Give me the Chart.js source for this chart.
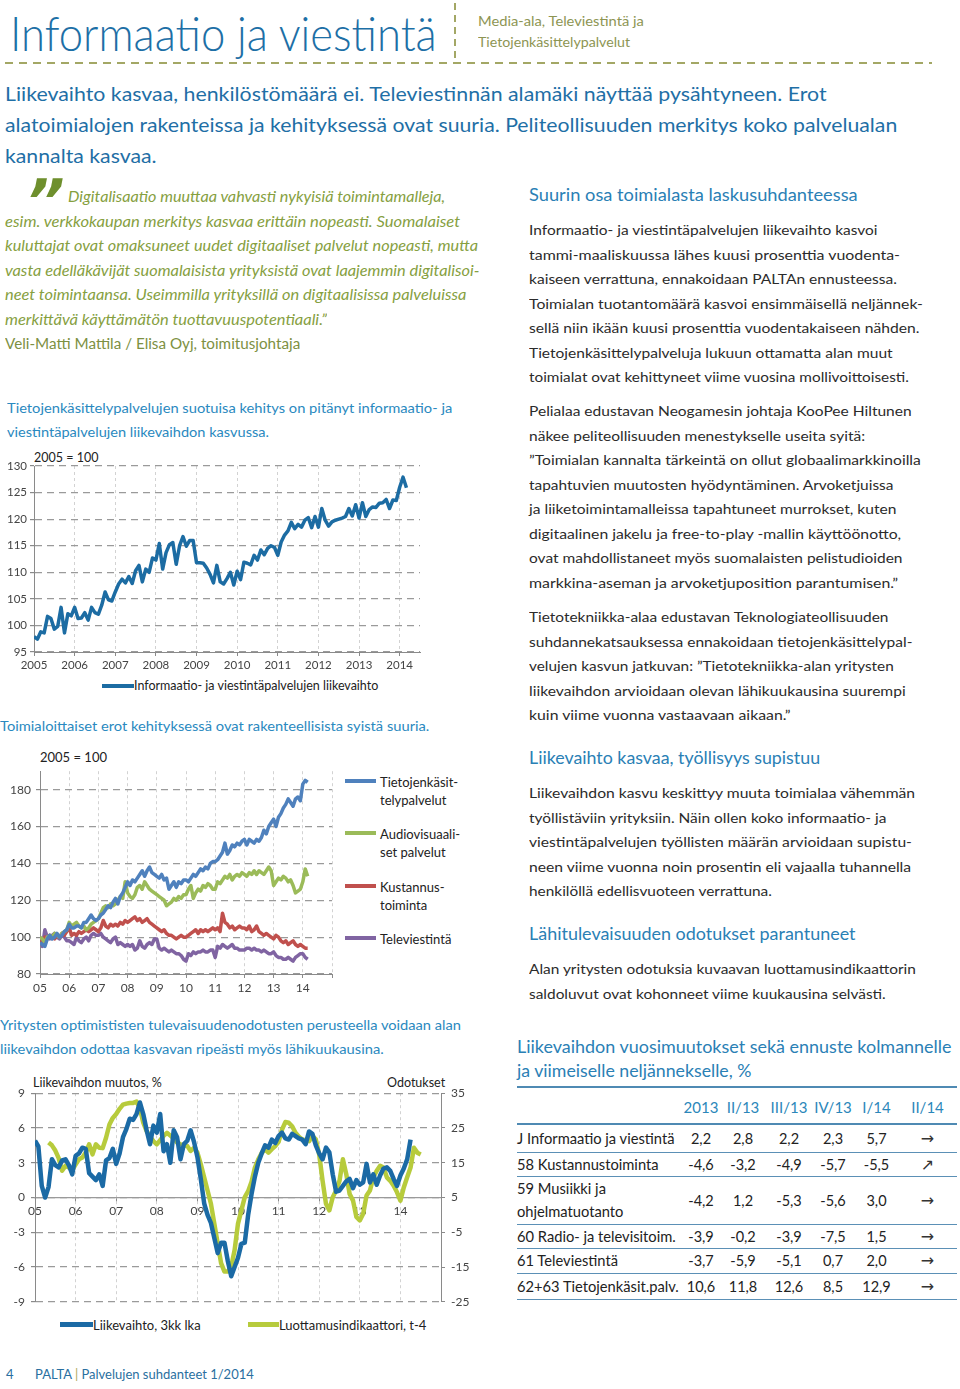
<!DOCTYPE html>
<html lang="fi">
<head>
<meta charset="utf-8">
<title>Informaatio ja viestintä</title>
<script src="https://cdn.jsdelivr.net/npm/chart.js@4.4.1/dist/chart.umd.min.js"></script>
<style>
  body { margin: 0; background: #fff; }
  #sivu { position: relative; width: 960px; height: 1389px; overflow: hidden; font-family: Lato, "Noto Sans", sans-serif; color: #2b2b2b; }
  .abs { position: absolute; white-space: nowrap; }
  .abs span[data-w] { display: inline-block; transform-origin: 0 50%; }
  .oik { font-size: 14px; line-height: 24.5px; color: #2b2b2b; left: 529px; }
  .ots { font-size: 17.5px; line-height: 24px; color: #2a80b5; left: 529px; }
  .kuva { font-size: 13.5px; line-height: 24px; color: #2a89c0; }
  .viiva { position: absolute; }
  canvas { position: absolute; }
  #taulu { position: absolute; left: 517px; top: 1087px; width: 440px; border-collapse: collapse; table-layout: fixed; font-size: 14.5px; color: #222; }
  #taulu td, #taulu th { padding: 0; white-space: nowrap; }
  #taulu th { font-weight: normal; font-size: 15px; color: #2b87ba; height: 29px; vertical-align: bottom; padding-bottom: 7px; }
  #taulu tr { border-bottom: 1.5px solid #5b90b6; }
  #taulu tr:first-child { border-bottom: 2px solid #4f8ab3; }
  #taulu td { text-align: center; }
  #taulu td:first-child { text-align: left; line-height: 23px; font-size: 14.7px; }
  #taulu td.nuoli { font-family: "DejaVu Sans", sans-serif; font-size: 16px; color: #333; }
</style>
</head>
<body>
<div id="sivu">

  <div class="abs" style="left:10px;top:9px;font-size:48px;line-height:48px;font-weight:300;color:#1d6fa6"><span data-w="427">Informaatio ja viestintä</span></div>
  <div class="viiva" style="left:454px;top:3px;width:2px;height:59px;background:repeating-linear-gradient(to bottom,#a3a765 0 7px,transparent 7px 12px)"></div>
  <div class="abs" style="left:478px;top:9.5px;font-size:14px;line-height:21px;color:#8d9553">
    <div><span data-w="166">Media-ala, Televiestintä ja</span></div>
    <div><span data-w="152">Tietojenkäsittelypalvelut</span></div>
  </div>
  <div class="viiva" style="left:5px;top:62px;width:927px;height:2px;background:repeating-linear-gradient(to right,#a3a765 0 8px,transparent 8px 14px)"></div>

  <div class="abs" style="left:5px;top:78px;font-size:20px;line-height:31px;color:#1f6fa6">
    <div><span data-w="822">Liikevaihto kasvaa, henkilöstömäärä ei. Televiestinnän alamäki näyttää pysähtyneen. Erot</span></div>
    <div><span data-w="892">alatoimialojen rakenteissa ja kehityksessä ovat suuria. Peliteollisuuden merkitys koko palvelualan</span></div>
    <div><span data-w="152">kannalta kasvaa.</span></div>
  </div>

  <div class="abs" style="left:26px;top:172px;font-family:'DejaVu Sans',sans-serif;font-weight:bold;font-style:italic;font-size:60px;line-height:58px;color:#6e8f2d">”</div>
  <div class="abs" style="left:5px;top:185px;font-size:14.5px;line-height:24.5px;font-style:italic;color:#86a03f">
    <div style="padding-left:63px"><span data-w="377">Digitalisaatio muuttaa vahvasti nykyisiä toimintamalleja,</span></div>
    <div><span data-w="455">esim. verkkokaupan merkitys kasvaa erittäin nopeasti. Suomalaiset</span></div>
    <div><span data-w="473">kuluttajat ovat omaksuneet uudet digitaaliset palvelut nopeasti, mutta</span></div>
    <div><span data-w="475">vasta edelläkävijät suomalaisista yrityksistä ovat laajemmin digitalisoi-</span></div>
    <div><span data-w="461">neet toimintaansa. Useimmilla yrityksillä on digitaalisissa palveluissa</span></div>
    <div><span data-w="322">merkittävä käyttämätön tuottavuuspotentiaali.”</span></div>
    <div style="font-style:normal;color:#7d9042"><span data-w="295">Veli-Matti Mattila / Elisa Oyj, toimitusjohtaja</span></div>
  </div>

  <div class="abs kuva" style="left:7px;top:396px">
    <div><span data-w="445">Tietojenkäsittelypalvelujen suotuisa kehitys on pitänyt informaatio- ja</span></div>
    <div><span data-w="262">viestintäpalvelujen liikevaihdon kasvussa.</span></div>
  </div>
  <div class="abs" style="left:34px;top:450px;font-size:12.5px;line-height:16px;color:#222">2005 = 100</div>
  <canvas id="kaavio1" width="425" height="220" style="left:0;top:455px"></canvas>
  <div class="viiva" style="left:102px;top:684px;width:32px;height:4px;background:#1c6ca3"></div>
  <div class="abs" style="left:134px;top:678px;font-size:12.5px;line-height:16px;color:#222">Informaatio- ja viestintäpalvelujen liikevaihto</div>

  <div class="abs kuva" style="left:0;top:714px">
    <div><span data-w="429">Toimialoittaiset erot kehityksessä ovat rakenteellisista syistä suuria.</span></div>
  </div>
  <div class="abs" style="left:40px;top:749px;font-size:13px;line-height:16px;color:#222">2005 = 100</div>
  <canvas id="kaavio2" width="340" height="241" style="left:0;top:759px"></canvas>
  <div class="viiva" style="left:345px;top:779px;width:31px;height:4px;background:#4f81bd"></div>
  <div class="viiva" style="left:345px;top:831px;width:31px;height:4px;background:#9bbb59"></div>
  <div class="viiva" style="left:345px;top:884px;width:31px;height:4px;background:#c0504d"></div>
  <div class="viiva" style="left:345px;top:936px;width:31px;height:4px;background:#8064a2"></div>
  <div class="abs" style="left:380px;top:773px;font-size:13px;line-height:18px;color:#222">Tietojenkäsit-<br>telypalvelut</div>
  <div class="abs" style="left:380px;top:825px;font-size:13px;line-height:18px;color:#222">Audiovisuaali-<br>set palvelut</div>
  <div class="abs" style="left:380px;top:878px;font-size:13px;line-height:18px;color:#222">Kustannus-<br>toiminta</div>
  <div class="abs" style="left:380px;top:930px;font-size:13px;line-height:18px;color:#222">Televiestintä</div>

  <div class="abs kuva" style="left:0;top:1013px">
    <div><span data-w="461">Yritysten optimististen tulevaisuudenodotusten perusteella voidaan alan</span></div>
    <div><span data-w="384">liikevaihdon odottaa kasvavan ripeästi myös lähikuukausina.</span></div>
  </div>
  <div class="abs" style="left:33px;top:1075px;font-size:12.5px;line-height:16px;color:#222">Liikevaihdon muutos, %</div>
  <div class="abs" style="left:387px;top:1075px;font-size:12.5px;line-height:16px;color:#222">Odotukset</div>
  <canvas id="kaavio3" width="475" height="235" style="left:0;top:1080px"></canvas>
  <div class="viiva" style="left:60px;top:1322px;width:33px;height:5px;background:#1b6aa5"></div>
  <div class="abs" style="left:93px;top:1317px;font-size:13px;line-height:16px;color:#222">Liikevaihto, 3kk lka</div>
  <div class="viiva" style="left:248px;top:1322px;width:31px;height:5px;background:#b7cb3c"></div>
  <div class="abs" style="left:279px;top:1317px;font-size:13px;line-height:16px;color:#222">Luottamusindikaattori, t-4</div>

  <div class="abs ots" style="top:183px"><span data-w="329">Suurin osa toimialasta laskusuhdanteessa</span></div>
  <div class="abs oik" style="top:218px">
    <div><span data-w="349">Informaatio- ja viestintäpalvelujen liikevaihto kasvoi</span></div>
    <div><span data-w="371">tammi-maaliskuussa lähes kuusi prosenttia vuodenta-</span></div>
    <div><span data-w="368">kaiseen verrattuna, ennakoidaan PALTAn ennusteessa.</span></div>
    <div><span data-w="394">Toimialan tuotantomäärä kasvoi ensimmäisellä neljännek-</span></div>
    <div><span data-w="391">sellä niin ikään kuusi prosenttia vuodentakaiseen nähden.</span></div>
    <div><span data-w="364">Tietojenkäsittelypalveluja lukuun ottamatta alan muut</span></div>
    <div><span data-w="380">toimialat ovat kehittyneet viime vuosina mollivoittoisesti.</span></div>
  </div>
  <div class="abs oik" style="top:399px">
    <div><span data-w="383">Pelialaa edustavan Neogamesin johtaja KooPee Hiltunen</span></div>
    <div><span data-w="336">näkee peliteollisuuden menestykselle useita syitä:</span></div>
    <div><span data-w="392">”Toimialan kannalta tärkeintä on ollut globaalimarkkinoilla</span></div>
    <div><span data-w="364">tapahtuvien muutosten hyödyntäminen. Arvoketjuissa</span></div>
    <div><span data-w="367">ja liiketoimintamalleissa tapahtuneet murrokset, kuten</span></div>
    <div><span data-w="372">digitaalinen jakelu ja free-to-play -mallin käyttöönotto,</span></div>
    <div><span data-w="374">ovat mahdollistaneet myös suomalaisten pelistudioiden</span></div>
    <div><span data-w="369">markkina-aseman ja arvoketjuposition parantumisen.”</span></div>
  </div>
  <div class="abs oik" style="top:605px">
    <div><span data-w="359">Tietotekniikka-alaa edustavan Teknologiateollisuuden</span></div>
    <div><span data-w="383">suhdannekatsauksessa ennakoidaan tietojenkäsittelypal-</span></div>
    <div><span data-w="365">velujen kasvun jatkuvan: ”Tietotekniikka-alan yritysten</span></div>
    <div><span data-w="377">liikevaihdon arvioidaan olevan lähikuukausina suurempi</span></div>
    <div><span data-w="262">kuin viime vuonna vastaavaan aikaan.”</span></div>
  </div>
  <div class="abs ots" style="top:746px"><span data-w="291">Liikevaihto kasvaa, työllisyys supistuu</span></div>
  <div class="abs oik" style="top:781px">
    <div><span data-w="386">Liikevaihdon kasvu keskittyy muuta toimialaa vähemmän</span></div>
    <div><span data-w="358">työllistäviin yrityksiin. Näin ollen koko informaatio- ja</span></div>
    <div><span data-w="383">viestintäpalvelujen työllisten määrän arvioidaan supistu-</span></div>
    <div><span data-w="382">neen viime vuonna noin prosentin eli vajaalla tuhannella</span></div>
    <div><span data-w="243">henkilöllä edellisvuoteen verrattuna.</span></div>
  </div>
  <div class="abs ots" style="top:922px"><span data-w="326">Lähitulevaisuuden odotukset parantuneet</span></div>
  <div class="abs oik" style="top:957px">
    <div><span data-w="387">Alan yritysten odotuksia kuvaavan luottamusindikaattorin</span></div>
    <div><span data-w="357">saldoluvut ovat kohonneet viime kuukausina selvästi.</span></div>
  </div>

  <div class="abs" style="left:517px;top:1035px;font-size:17.5px;line-height:24px;color:#2a80b5">
    <div><span data-w="435">Liikevaihdon vuosimuutokset sekä ennuste kolmannelle</span></div>
    <div><span data-w="235">ja viimeiselle neljännekselle, %</span></div>
  </div>
  <div class="viiva" style="left:517px;top:1086px;width:440px;height:1.5px;background:#4f8ab3"></div>
  <table id="taulu">
    <colgroup><col style="width:166px"><col style="width:36px"><col style="width:48px"><col style="width:44px"><col style="width:44px"><col style="width:43px"><col style="width:59px"></colgroup>
    <tbody id="taulunRungot"></tbody>
  </table>

  <div class="abs" style="left:6px;top:1366px;font-size:13px;line-height:16px;color:#2a6fa0">4</div>
  <div class="abs" style="left:35px;top:1366px;font-size:13px;line-height:16px;color:#2a6fa0">PALTA <span style="color:#b0a85a">|</span> Palvelujen suhdanteet 1/2014</div>
</div>

<script>
// Kaavio 1: informaatio- ja viestintäpalvelujen liikevaihto, 2005 = 100, kuukausittain 1/2005 alkaen
var vuosiTunnukset = ['2005', '2006', '2007', '2008', '2009', '2010', '2011', '2012', '2013', '2014'];
var liikevaihtoIndeksi = [
    97.9, 97.4, 98.8, 98.6, 101.7, 101.3, 99.3, 99.8, 103.4, 98.6, 102.2, 101.8,
    103.4, 101.3, 101.4, 102.4, 101.0, 103.4, 102.4, 102.1, 103.8, 106.3, 104.8, 104.6,
    106.3, 107.8, 108.7, 108.0, 109.2, 107.9, 110.3, 111.3, 108.2, 110.6, 110.0, 112.7,
    112.3, 115.4, 110.6, 113.7, 115.2, 115.6, 111.5, 115.0, 116.7, 114.9, 116.0, 116.0,
    111.8, 111.8, 111.7, 110.8, 109.6, 108.0, 111.3, 108.2, 107.8, 108.8, 110.0, 107.6,
    110.2, 108.6, 111.9, 111.7, 111.4, 113.2, 112.3, 114.2, 113.3, 114.5, 115.0, 114.7,
    113.2, 115.7, 117.0, 117.8, 119.4, 118.2, 119.0, 118.5, 119.8, 120.3, 118.4, 120.5,
    118.5, 122.0, 119.8, 118.7, 119.5, 119.8, 120.0, 120.2, 120.5, 122.0, 120.6, 122.7,
    120.2, 123.1, 120.5, 121.8, 122.3, 122.2, 123.0, 123.1, 123.7, 122.0, 123.6, 123.5,
    126.0, 127.9, 125.9
];

// Kaavio 2: toimialoittaiset indeksit, 2005 = 100
var lyhyetVuodet = ['05', '06', '07', '08', '09', '10', '11', '12', '13', '14'];
var tietojenkasittely = [
    97, 96, 95, 99, 101, 99, 100, 102, 100, 101, 103, 104,
    107, 105, 105, 106, 106, 105, 108, 108, 110, 112, 110, 109,
    110, 112, 113, 115, 117, 116, 119, 121, 118, 122, 124, 127,
    130, 128, 131, 130, 132, 134, 136, 133, 136, 138, 135, 134,
    133, 132, 134, 131, 132, 126, 128, 130, 127, 130, 129, 131,
    131, 130, 132, 134, 133, 135, 137, 136, 138, 137, 140, 141,
    141, 142, 144, 146, 151, 145, 147, 150, 149, 151, 150, 152,
    153, 150, 153, 152, 151, 153, 152, 154, 158, 156, 160, 162,
    164, 160, 165, 167, 170, 172, 175, 173, 171, 175, 176, 174,
    183, 185, 184
];
var audiovisuaaliset = [
    100, 99, 97, 100, 101, 100, 102, 101, 100, 102, 103, 104,
    108, 106, 107, 108, 106, 105, 106, 104, 105, 107, 108, 109,
    110, 113, 116, 117, 116, 118, 117, 118, 120, 122, 121, 130,
    124, 122, 121, 123, 127, 128, 126, 130, 128, 126, 125, 124,
    123, 122, 121, 120, 117, 118, 119, 121, 120, 122, 121, 123,
    123, 126, 128, 121, 124, 126, 125, 128, 127, 129, 128, 126,
    126, 130, 129, 131, 133, 132, 134, 131, 133, 134, 133, 135,
    134, 133, 135, 134, 136, 134, 136, 135, 134, 136, 138, 136,
    128, 130, 132, 131, 133, 132, 130, 131, 128, 124, 125, 126,
    130, 137, 133
];
var kustannustoiminta = [
    98, 97, 100, 99, 101, 100, 99, 101, 100, 102, 101, 103,
    105, 101, 102, 101, 103, 102, 103, 104, 103, 104, 105, 104,
    103, 105, 109, 106, 105, 107, 106, 107, 106, 108, 107, 109,
    108, 109, 110, 111, 109, 110, 108, 109, 110, 108, 107, 106,
    105, 104, 103, 104, 102, 101, 101, 100, 99, 100, 101, 100,
    100, 101, 102, 103, 104, 102, 104, 103, 104, 103, 104, 105,
    104, 105, 103, 113, 108, 107, 105, 106, 104, 105, 106, 105,
    105, 104, 106, 103, 104, 106, 103, 102, 101, 102, 101, 100,
    99, 101, 100, 98, 97, 98, 96, 97, 98, 96, 95, 96,
    95, 94, 94
];
var televiestinta = [
    99, 95, 104, 100, 99, 101, 102, 100, 99, 101, 100, 98,
    98, 97, 96, 100, 98, 97, 99, 100, 98, 101, 102, 101,
    101, 102, 100, 99, 98, 97, 99, 100, 96, 97, 96, 95,
    96, 95, 96, 93, 94, 98, 95, 94, 96, 97, 96, 99,
    99, 94, 93, 94, 93, 92, 93, 92, 91, 91, 90, 88,
    87, 91, 90, 92, 91, 92, 92, 93, 92, 92, 93, 93,
    89, 95, 94, 96, 95, 94, 95, 96, 94, 94, 93, 93,
    93, 94, 94, 93, 94, 93, 93, 92, 93, 92, 91, 91,
    92, 90, 89, 89, 88, 88, 89, 88, 87, 89, 90, 91,
    91, 89, 88
];

// Kaavio 3: liikevaihdon muutos (vasen akseli) ja luottamusindikaattori t-4 (oikea akseli)
var liikevaihdonMuutos = [
    4.9, 4.4, 1.0, 0.0, 0.9, 3.3, 2.8, 2.6, 3.2, 3.3, 2.8, 2.0,
    3.6, 3.8, 4.3, 4.2, 2.1, 1.8, 1.5, 2.0, 1.0, 3.2, 3.4, 4.2,
    2.9, 3.8, 5.2, 5.9, 6.8, 6.7, 7.2, 8.2, 7.2, 5.8, 4.6, 6.2,
    5.6, 7.2, 4.0, 4.6, 3.0, 5.8, 5.2, 3.3, 4.6, 4.9, 5.8, 4.8,
    3.5, 1.6, -0.5, -1.5, -2.2, -3.5, -4.8, -3.9, -3.9, -5.5, -6.8, -6.0,
    -5.2, -4.0, -3.9, -1.5, 0.3, 1.8, 3.0, 3.8, 4.5, 4.3, 5.0, 4.7,
    5.3, 5.6, 5.1, 5.0, 5.5, 5.3, 5.1, 5.0, 4.6, 5.7, 5.5, 4.5,
    3.8, 3.3, 4.3, 3.9, 2.0, 0.5, 0.6, 1.0, 1.4, 1.6, 0.8, 1.5,
    1.1, 1.3, 2.9, 1.3, 2.0, 1.1, 1.9, 2.5, 2.6, 2.3, 1.6, 1.0,
    1.9, 2.5, 3.3, 5.0
];
var luottamusAlku = 4; // ensimmäinen arvo 5/2005
var luottamusindikaattori = [
    20.8, 20.0, 18.5, 16.3, 12.7, 14.1, 13.6, 12.8,
    14.5, 16.0, 16.5, 17.9, 20.3, 17.4, 20.3, 19.3, 19.2, 22.2, 26.0, 27.9,
    29.0, 30.5, 31.7, 32.0, 32.2, 32.2, 32.6, 30.7, 26.5, 24.1, 22.5, 21.2,
    20.3, 21.5, 22.7, 23.6, 22.8, 22.0, 20.8, 20.3, 20.0, 19.8, 18.4, 19.3,
    17.9, 14.6, 10.8, 7.0, 3.2, -2.5, -8.2, -13.9, -16.3, -16.3, -14.8, -10.1,
    -2.5, 1.3, 5.1, 6.8, 9.5, 13.6, 16.0, 17.8, 18.9, 17.9, 18.9, 19.8,
    21.0, 24.5, 26.7, 26.5, 25.5, 23.6, 22.5, 21.7, 21.5, 21.2, 22.7, 21.7,
    17.4, 9.8, 3.2, 1.3, 5.1, 7.0, 9.8, 16.0, 11.7, 6.0, 4.1, -0.6,
    -1.6, 0.3, 5.6, 7.0, 10.8, 12.7, 14.1, 13.6, 10.8, 9.8, 8.4, 6.5,
    4.1, 7.9, 10.8, 13.6, 19.3, 17.9, 17.4
];
var odotusTicks = [-25, -15, -5, 5, 15, 25, 35];

// Taulukko: liikevaihdon vuosimuutokset, %
var taulukonSarakkeet = ['2013', 'II/13', 'III/13', 'IV/13', 'I/14', 'II/14'];
var taulukonRivit = ['J Informaatio ja viestintä', '58 Kustannustoiminta', '59 Musiikki ja<br>ohjelmatuotanto',
    '60 Radio- ja televisitoim.', '61 Televiestintä', '62+63 Tietojenkäsit.palv.'];
var taulukonArvot = [
    ['2,2', '2,8', '2,2', '2,3', '5,7'],
    ['-4,6', '-3,2', '-4,9', '-5,7', '-5,5'],
    ['-4,2', '1,2', '-5,3', '-5,6', '3,0'],
    ['-3,9', '-0,2', '-3,9', '-7,5', '1,5'],
    ['-3,7', '-5,9', '-5,1', '0,7', '2,0'],
    ['10,6', '11,8', '12,6', '8,5', '12,9']
];
var ennusteNuolet = ['→', '↗', '→', '→', '→', '→'];

function taytaTaulukko() {
    var rivinKorkeudet = [28, 24, 48, 24, 25, 26];
    var html = '<tr><th></th>';
    taulukonSarakkeet.forEach(function (s) { html += '<th>' + s + '</th>'; });
    html += '</tr>';
    taulukonRivit.forEach(function (nimi, r) {
        html += '<tr style="height:' + rivinKorkeudet[r] + 'px"><td>' + nimi + '</td>';
        taulukonArvot[r].forEach(function (a) { html += '<td>' + a + '</td>'; });
        html += '<td class="nuoli">' + ennusteNuolet[r] + '</td></tr>';
    });
    document.getElementById('taulunRungot').innerHTML = html;
}

function sovitaRivit() {
    document.querySelectorAll('span[data-w]').forEach(function (el) {
        var w = el.offsetWidth;
        if (w > 0) {
            el.style.transform = 'scaleX(' + (parseFloat(el.getAttribute('data-w')) / w).toFixed(4) + ')';
        }
    });
}

function kuukausiPisteet(alku, arvot) {
    return arvot.map(function (v, i) {
        return { x: 2005 + (alku + i) / 12, y: v };
    });
}

function sarja(nimi, alku, arvot, vari, leveys) {
    return {
        label: nimi,
        data: kuukausiPisteet(alku, arvot),
        borderColor: vari,
        backgroundColor: vari,
        borderWidth: leveys,
        pointRadius: 0,
        tension: 0,
        borderJoinStyle: 'round'
    };
}

var tekstiVari = '#444';
var akseliVari = '#8a8a8a';

Chart.defaults.font.family = 'Lato, "Noto Sans", sans-serif';
Chart.defaults.animation = false;
Chart.defaults.responsive = false;
Chart.defaults.plugins.legend.display = false;
Chart.defaults.plugins.tooltip.enabled = false;

function kaavio1() {
    new Chart(document.getElementById('kaavio1'), {
        type: 'line',
        data: {
            datasets: [sarja('Informaatio- ja viestintäpalvelujen liikevaihto', 0, liikevaihtoIndeksi, '#1c6ca3', 3.5)]
        },
        options: {
            layout: { padding: { top: 11, right: 5, left: 0, bottom: 0 } },
            scales: {
                x: {
                    type: 'linear', min: 2005, max: 2014.5,
                    afterFit: function (s) { s.height = 23; },
                    grid: { color: '#d2d2d2', tickColor: akseliVari, tickLength: 4, tickBorderDash: [] },
                    border: { color: akseliVari, dash: [3, 3] },
                    ticks: {
                        stepSize: 1, includeBounds: false, autoSkip: false, maxRotation: 0, padding: 2,
                        color: tekstiVari, font: { size: 11.5 },
                        callback: function (v) { return vuosiTunnukset[v - 2005]; }
                    }
                },
                y: {
                    min: 95, max: 130,
                    afterFit: function (s) { s.width = 34; },
                    grid: { color: '#9a9a9a', lineWidth: 1.2, tickColor: akseliVari, tickLength: 4, tickBorderDash: [] },
                    border: { color: akseliVari, dash: [7, 5] },
                    ticks: { stepSize: 5, includeBounds: false, padding: 3, color: tekstiVari, font: { size: 11.5 } }
                }
            }
        }
    });
}

function kaavio2() {
    new Chart(document.getElementById('kaavio2'), {
        type: 'line',
        data: {
            datasets: [
                sarja('Tietojenkäsittelypalvelut', 0, tietojenkasittely, '#4f81bd', 3.5),
                sarja('Audiovisuaaliset palvelut', 0, audiovisuaaliset, '#9bbb59', 3.5),
                sarja('Kustannustoiminta', 0, kustannustoiminta, '#c0504d', 3.5),
                sarja('Televiestintä', 0, televiestinta, '#8064a2', 3.5)
            ]
        },
        options: {
            layout: { padding: { top: 8, right: 8, left: 0, bottom: 0 } },
            scales: {
                x: {
                    type: 'linear', min: 2005, max: 2015,
                    afterFit: function (s) { s.height = 26; },
                    grid: { color: '#d2d2d2', tickColor: akseliVari, tickLength: 4, tickBorderDash: [] },
                    border: { color: akseliVari, dash: [3, 3] },
                    ticks: {
                        stepSize: 1, includeBounds: false, autoSkip: false, maxRotation: 0, padding: 3,
                        color: tekstiVari, font: { size: 12 },
                        callback: function (v) { return lyhyetVuodet[v - 2005] || ''; }
                    }
                },
                y: {
                    min: 80, max: 190,
                    afterFit: function (s) { s.width = 40; },
                    grid: { color: '#9a9a9a', lineWidth: 1.2, tickColor: akseliVari, tickLength: 4, tickBorderDash: [] },
                    border: { color: akseliVari, dash: [7, 5] },
                    ticks: { stepSize: 20, includeBounds: false, padding: 5, color: tekstiVari, font: { size: 12 } }
                }
            }
        }
    });
}

function kaavio3() {
    new Chart(document.getElementById('kaavio3'), {
        type: 'line',
        data: {
            datasets: [
                Object.assign(sarja('Liikevaihto, 3kk lka', 0, liikevaihdonMuutos, '#1b6aa5', 4.5), { yAxisID: 'y' }),
                Object.assign(sarja('Luottamusindikaattori, t-4', luottamusAlku, luottamusindikaattori, '#b7cb3c', 4.5), { yAxisID: 'y2' })
            ]
        },
        options: {
            layout: { padding: { top: 12, right: 0, left: 0, bottom: 13 } },
            scales: {
                x: {
                    type: 'linear', min: 2005, max: 2015, position: { y: 0 },
                    grid: { color: '#d2d2d2', tickColor: akseliVari, tickLength: 3, tickBorderDash: [] },
                    border: { color: '#9a9a9a', width: 1.3, dash: [3, 3] },
                    ticks: {
                        stepSize: 1, includeBounds: false, autoSkip: false, maxRotation: 0, padding: 3,
                        color: tekstiVari, font: { size: 12 },
                        callback: function (v) { return lyhyetVuodet[v - 2005] || ''; }
                    }
                },
                y: {
                    position: 'left', min: -9, max: 9,
                    afterFit: function (s) { s.width = 35; },
                    grid: { color: '#9a9a9a', lineWidth: 1.2, tickColor: akseliVari, tickLength: 4, tickBorderDash: [] },
                    border: { color: akseliVari, dash: [7, 5] },
                    ticks: { stepSize: 3, includeBounds: false, padding: 6, color: tekstiVari, font: { size: 12 } }
                },
                y2: {
                    position: 'right', min: -25, max: 35,
                    afterFit: function (s) { s.width = 34; },
                    afterBuildTicks: function (s) {
                        s.ticks = odotusTicks.map(function (v) { return { value: v }; });
                    },
                    grid: { drawOnChartArea: false, tickColor: akseliVari, tickLength: 4, tickBorderDash: [] },
                    border: { color: akseliVari },
                    ticks: { padding: 6, color: tekstiVari, font: { size: 12 } }
                }
            }
        }
    });
}

taytaTaulukko();
sovitaRivit();
kaavio1();
kaavio2();
kaavio3();
if (document.fonts && document.fonts.ready) {
    document.fonts.ready.then(sovitaRivit);
}
</script>
</body>
</html>
